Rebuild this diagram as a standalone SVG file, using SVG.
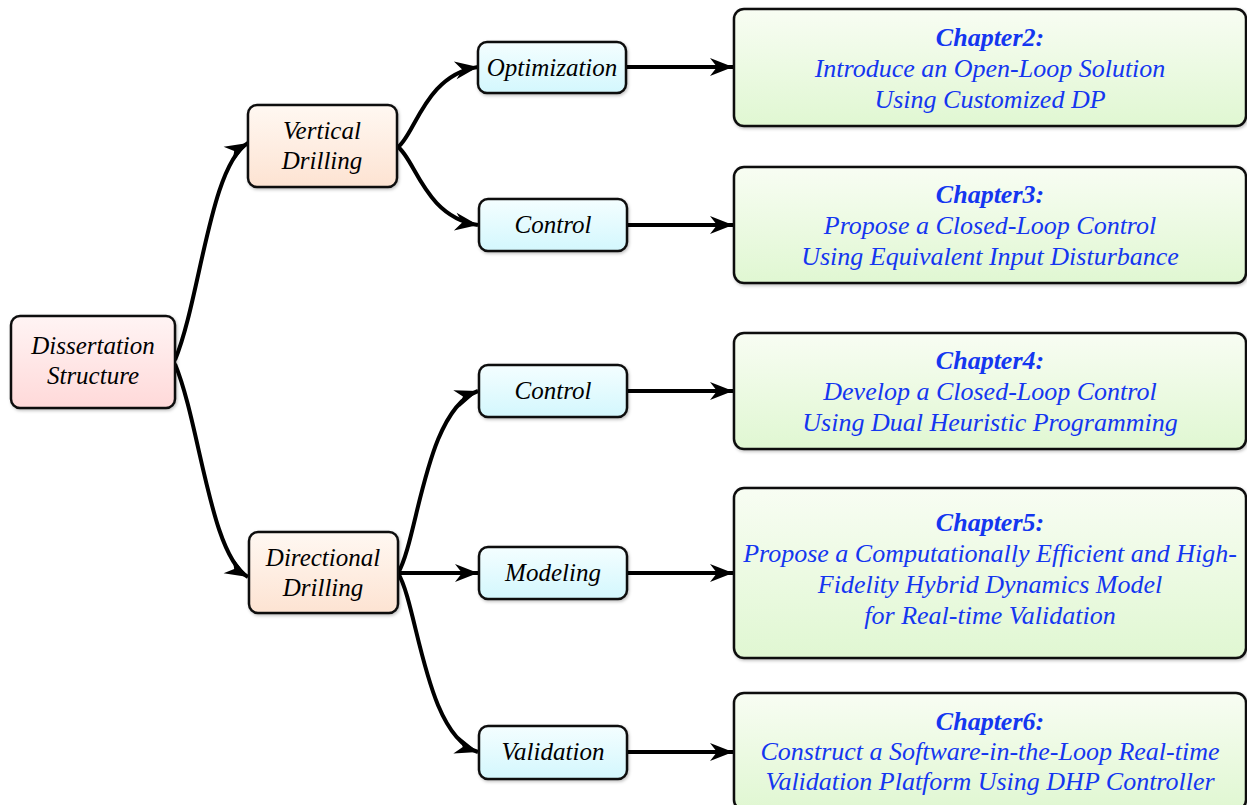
<svg xmlns="http://www.w3.org/2000/svg" width="1247" height="805" viewBox="0 0 1247 805">
<defs>
<linearGradient id="gRoot" x1="0" y1="0" x2="0" y2="1"><stop offset="0" stop-color="#fff4f4"/><stop offset="1" stop-color="#ffd9d9"/></linearGradient>
<linearGradient id="gOrange" x1="0" y1="0" x2="0" y2="1"><stop offset="0" stop-color="#fff8f2"/><stop offset="1" stop-color="#fde3d2"/></linearGradient>
<linearGradient id="gCyan" x1="0" y1="0" x2="0" y2="1"><stop offset="0" stop-color="#f4feff"/><stop offset="1" stop-color="#d3f7fd"/></linearGradient>
<linearGradient id="gGreen" x1="0" y1="0" x2="0" y2="1"><stop offset="0" stop-color="#f8fdf3"/><stop offset="1" stop-color="#e0f7d2"/></linearGradient>
<filter id="sh" x="-10%" y="-10%" width="120%" height="130%"><feDropShadow dx="1" dy="1.5" stdDeviation="1.5" flood-color="#000" flood-opacity="0.25"/></filter>
<marker id="arr" markerUnits="userSpaceOnUse" markerWidth="26" markerHeight="22" viewBox="-24 -11 26 22" refX="0" refY="0" orient="auto"><path d="M0,0 L-23,-9 L-16,0 L-23,9 Z" fill="#000"/></marker>
</defs>
<style>
.box{stroke:#111;stroke-width:2.5;filter:url(#sh)}
.lbl{font-family:"Liberation Serif",serif;font-style:italic;font-size:25px;fill:#000;text-anchor:middle}
.ch{font-family:"Liberation Serif",serif;font-style:italic;font-size:26px;fill:#1436f0;text-anchor:middle}
.chh{font-weight:bold}
.edge{fill:none;stroke:#000;stroke-width:4;marker-end:url(#arr)}
</style>
<rect width="1247" height="805" fill="#fff"/>
<g id="connectors">
<path class="edge" d="M175,360 C200,300 210,165 248,143"/>
<path class="edge" d="M175,364 C200,424 210,555 248,577"/>
<path class="edge" d="M398,147 C415,135 425,75 478,67"/>
<path class="edge" d="M398,147 C415,159 425,217 478,225"/>
<path class="edge" d="M398,573 C418,540 425,410 478,391"/>
<path class="edge" d="M398,573 L478,573"/>
<path class="edge" d="M398,573 C418,606 425,735 478,752"/>
<path class="edge" d="M627,67 L733,67"/>
<path class="edge" d="M627,225 L733,225"/>
<path class="edge" d="M627,391 L733,391"/>
<path class="edge" d="M627,573 L733,573"/>
<path class="edge" d="M627,752 L733,752"/>
</g>
<g id="root">
<rect class="box" x="11" y="316" width="164" height="92" rx="9" fill="url(#gRoot)"/>
<text class="lbl" x="93" y="354">Dissertation</text>
<text class="lbl" x="93" y="384">Structure</text>
</g>
<g id="vertical">
<rect class="box" x="248" y="105" width="149" height="82" rx="9" fill="url(#gOrange)"/>
<text class="lbl" x="322" y="139">Vertical</text>
<text class="lbl" x="322" y="169">Drilling</text>
</g>
<g id="directional">
<rect class="box" x="249" y="532" width="149" height="81" rx="9" fill="url(#gOrange)"/>
<text class="lbl" x="323" y="566">Directional</text>
<text class="lbl" x="323" y="596">Drilling</text>
</g>
<g id="optimization">
<rect class="box" x="478" y="42" width="148" height="51" rx="9" fill="url(#gCyan)"/>
<text class="lbl" x="552" y="76">Optimization</text>
</g>
<g id="control1">
<rect class="box" x="479" y="199" width="148" height="52" rx="9" fill="url(#gCyan)"/>
<text class="lbl" x="553" y="233">Control</text>
</g>
<g id="control2">
<rect class="box" x="479" y="365" width="148" height="52" rx="9" fill="url(#gCyan)"/>
<text class="lbl" x="553" y="399">Control</text>
</g>
<g id="modeling">
<rect class="box" x="479" y="547" width="148" height="52" rx="9" fill="url(#gCyan)"/>
<text class="lbl" x="553" y="581">Modeling</text>
</g>
<g id="validation">
<rect class="box" x="479" y="726" width="148" height="53" rx="9" fill="url(#gCyan)"/>
<text class="lbl" x="553" y="760">Validation</text>
</g>
<g id="chapter2">
<rect class="box" x="734" y="9" width="512" height="117" rx="10" fill="url(#gGreen)"/>
<text class="ch chh" x="990" y="46">Chapter2:</text>
<text class="ch" x="990" y="77">Introduce an Open-Loop Solution</text>
<text class="ch" x="990" y="108">Using Customized DP</text>
</g>
<g id="chapter3">
<rect class="box" x="734" y="167" width="512" height="116" rx="10" fill="url(#gGreen)"/>
<text class="ch chh" x="990" y="203">Chapter3:</text>
<text class="ch" x="990" y="234">Propose a Closed-Loop Control</text>
<text class="ch" x="990" y="265">Using Equivalent Input Disturbance</text>
</g>
<g id="chapter4">
<rect class="box" x="734" y="333" width="512" height="116" rx="10" fill="url(#gGreen)"/>
<text class="ch chh" x="990" y="369">Chapter4:</text>
<text class="ch" x="990" y="400">Develop a Closed-Loop Control</text>
<text class="ch" x="990" y="431">Using Dual Heuristic Programming</text>
</g>
<g id="chapter5">
<rect class="box" x="734" y="488" width="512" height="170" rx="10" fill="url(#gGreen)"/>
<text class="ch chh" x="990" y="531">Chapter5:</text>
<text class="ch" x="990" y="562">Propose a Computationally Efficient and High-</text>
<text class="ch" x="990" y="593">Fidelity Hybrid Dynamics Model</text>
<text class="ch" x="990" y="624">for Real-time Validation</text>
</g>
<g id="chapter6">
<rect class="box" x="734" y="693" width="512" height="117" rx="10" fill="url(#gGreen)"/>
<text class="ch chh" x="990" y="730">Chapter6:</text>
<text class="ch" x="990" y="760">Construct a Software-in-the-Loop Real-time</text>
<text class="ch" x="990" y="790">Validation Platform Using DHP Controller</text>
</g>
</svg>
